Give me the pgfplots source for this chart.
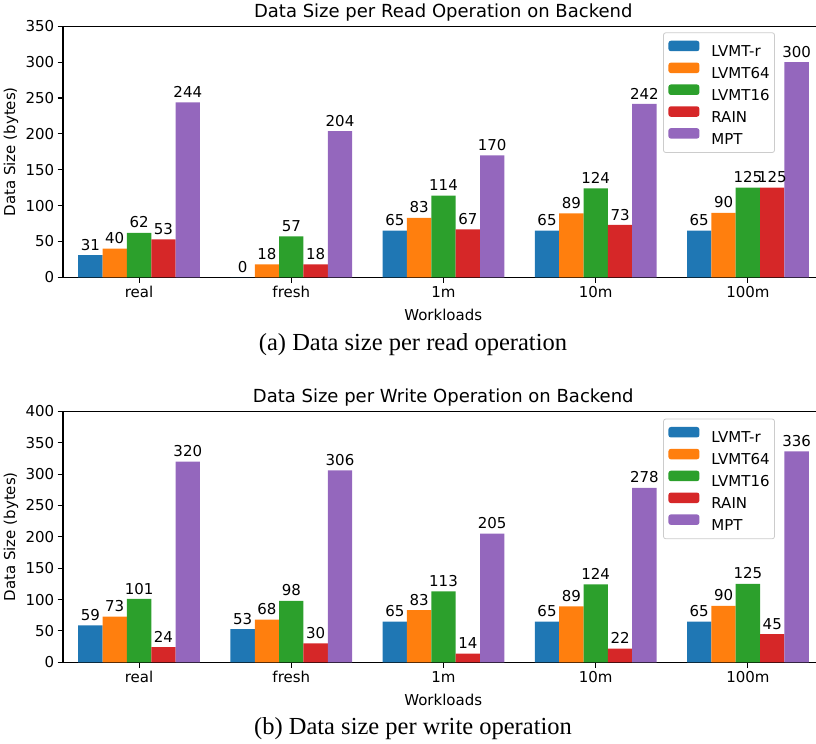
\documentclass[border=0pt]{standalone}
\usepackage{fontspec}
\setmainfont{DejaVu Sans}
\newfontfamily\capfont{Liberation Serif}
\usepackage{pgfplots}
\pgfplotsset{compat=1.18}
\definecolor{c1}{HTML}{1F77B4}
\definecolor{c2}{HTML}{FF7F0E}
\definecolor{c3}{HTML}{2CA02C}
\definecolor{c4}{HTML}{D62728}
\definecolor{c5}{HTML}{9467BD}
\newcommand\tickfont{\fontsize{15bp}{18bp}\selectfont}
\newcommand\titlefont{\fontsize{18bp}{21bp}\selectfont}
\pgfplotsset{
  mybars/.style={
    ybar, scale only axis, width=753.4bp, height=251bp,
    xmin=-0.5, xmax=4.45, ymin=0,
    axis x line*=box, axis y line*=left,
    xtick={0,1,2,3,4}, xticklabels={real,fresh,1m,10m,100m},
    tick pos=left, tick align=outside, major tick length=5.25bp,
    axis line style={line width=1.1bp},
    every tick/.style={black, line width=1.1bp},
    /pgf/number format/assume math mode=true,
    tick label style={font=\tickfont},
    label style={font=\tickfont},
    bar width=0.16,
    every axis title/.style={at={(rel axis cs:0.5047,1)}, anchor=base, yshift=8.7bp, font=\titlefont},
    every axis x label/.style={at={(rel axis cs:0.5047,0)}, anchor=base, yshift=-42.7bp, font=\tickfont},
    every axis y label/.style={at={(rel axis cs:0,0.5)}, xshift=-52bp, rotate=90, anchor=center, font=\tickfont},
    xlabel={Workloads}, ylabel={Data Size (bytes)},
    nodes near coords,
    every node near coord/.append style={font=\tickfont, black, inner sep=4.5bp},
    legend cell align=left,
    legend image code/.code={\fill[##1] (0bp,0.2bp) rectangle (31bp,10.7bp);},
    legend style={anchor=north west, draw=black!20, line width=0.8bp, rounded corners=2.5bp,
      fill=white, inner xsep=5bp, inner ysep=8bp,
      column sep=12bp, row sep=5.4bp, font=\tickfont,
      nodes={inner sep=0bp, text height=11bp, text depth=0.5bp}},
  },
  s1/.style={fill=c1, draw=none, bar shift=-0.32},
  s2/.style={fill=c2, draw=none, bar shift=-0.16},
  s3/.style={fill=c3, draw=none, bar shift=0},
  s4/.style={fill=c4, draw=none, bar shift=0.16},
  s5/.style={fill=c5, draw=none, bar shift=0.32},
}
\begin{document}
\begin{tikzpicture}
% ---------- (a) read ----------
\begin{axis}[mybars, at={(63bp,-277.3bp)}, anchor=south west,
  ymax=350, ytick={0,50,...,350},
  title={Data Size per Read Operation on Backend},
  legend style={at={(0.7964,0.976)}}]
\addplot[s1] coordinates {(0,31) (1,0) (2,65) (3,65) (4,65)};
\addplot[s2] coordinates {(0,40) (1,18) (2,83) (3,89) (4,90)};
\addplot[s3] coordinates {(0,62) (1,57) (2,114) (3,124) (4,125)};
\addplot[s4] coordinates {(0,53) (1,18) (2,67) (3,73) (4,125)};
\addplot[s5] coordinates {(0,244) (1,204) (2,170) (3,242) (4,300)};
\legend{LVMT-r,LVMT64,LVMT16,RAIN,MPT}
\end{axis}
% ---------- (b) write ----------
\begin{axis}[mybars, at={(63bp,-662.3bp)}, anchor=south west,
  ymax=400, ytick={0,50,...,400},
  title={Data Size per Write Operation on Backend},
  legend style={at={(0.7964,0.971)}}]
\addplot[s1] coordinates {(0,59) (1,53) (2,65) (3,65) (4,65)};
\addplot[s2] coordinates {(0,73) (1,68) (2,83) (3,89) (4,90)};
\addplot[s3] coordinates {(0,101) (1,98) (2,113) (3,124) (4,125)};
\addplot[s4] coordinates {(0,24) (1,30) (2,14) (3,22) (4,45)};
\addplot[s5] coordinates {(0,320) (1,306) (2,205) (3,278) (4,336)};
\legend{LVMT-r,LVMT64,LVMT16,RAIN,MPT}
\end{axis}
\node[anchor=base, font=\capfont\fontsize{24.5bp}{28bp}\selectfont] at (413bp,-350bp) {(a) Data size per read operation};
\node[anchor=base, font=\capfont\fontsize{24.5bp}{28bp}\selectfont] at (413bp,-734bp) {(b) Data size per write operation};
\pgfresetboundingbox
\useasboundingbox (0,0) rectangle (816bp,-744bp);
\end{tikzpicture}
\end{document}
